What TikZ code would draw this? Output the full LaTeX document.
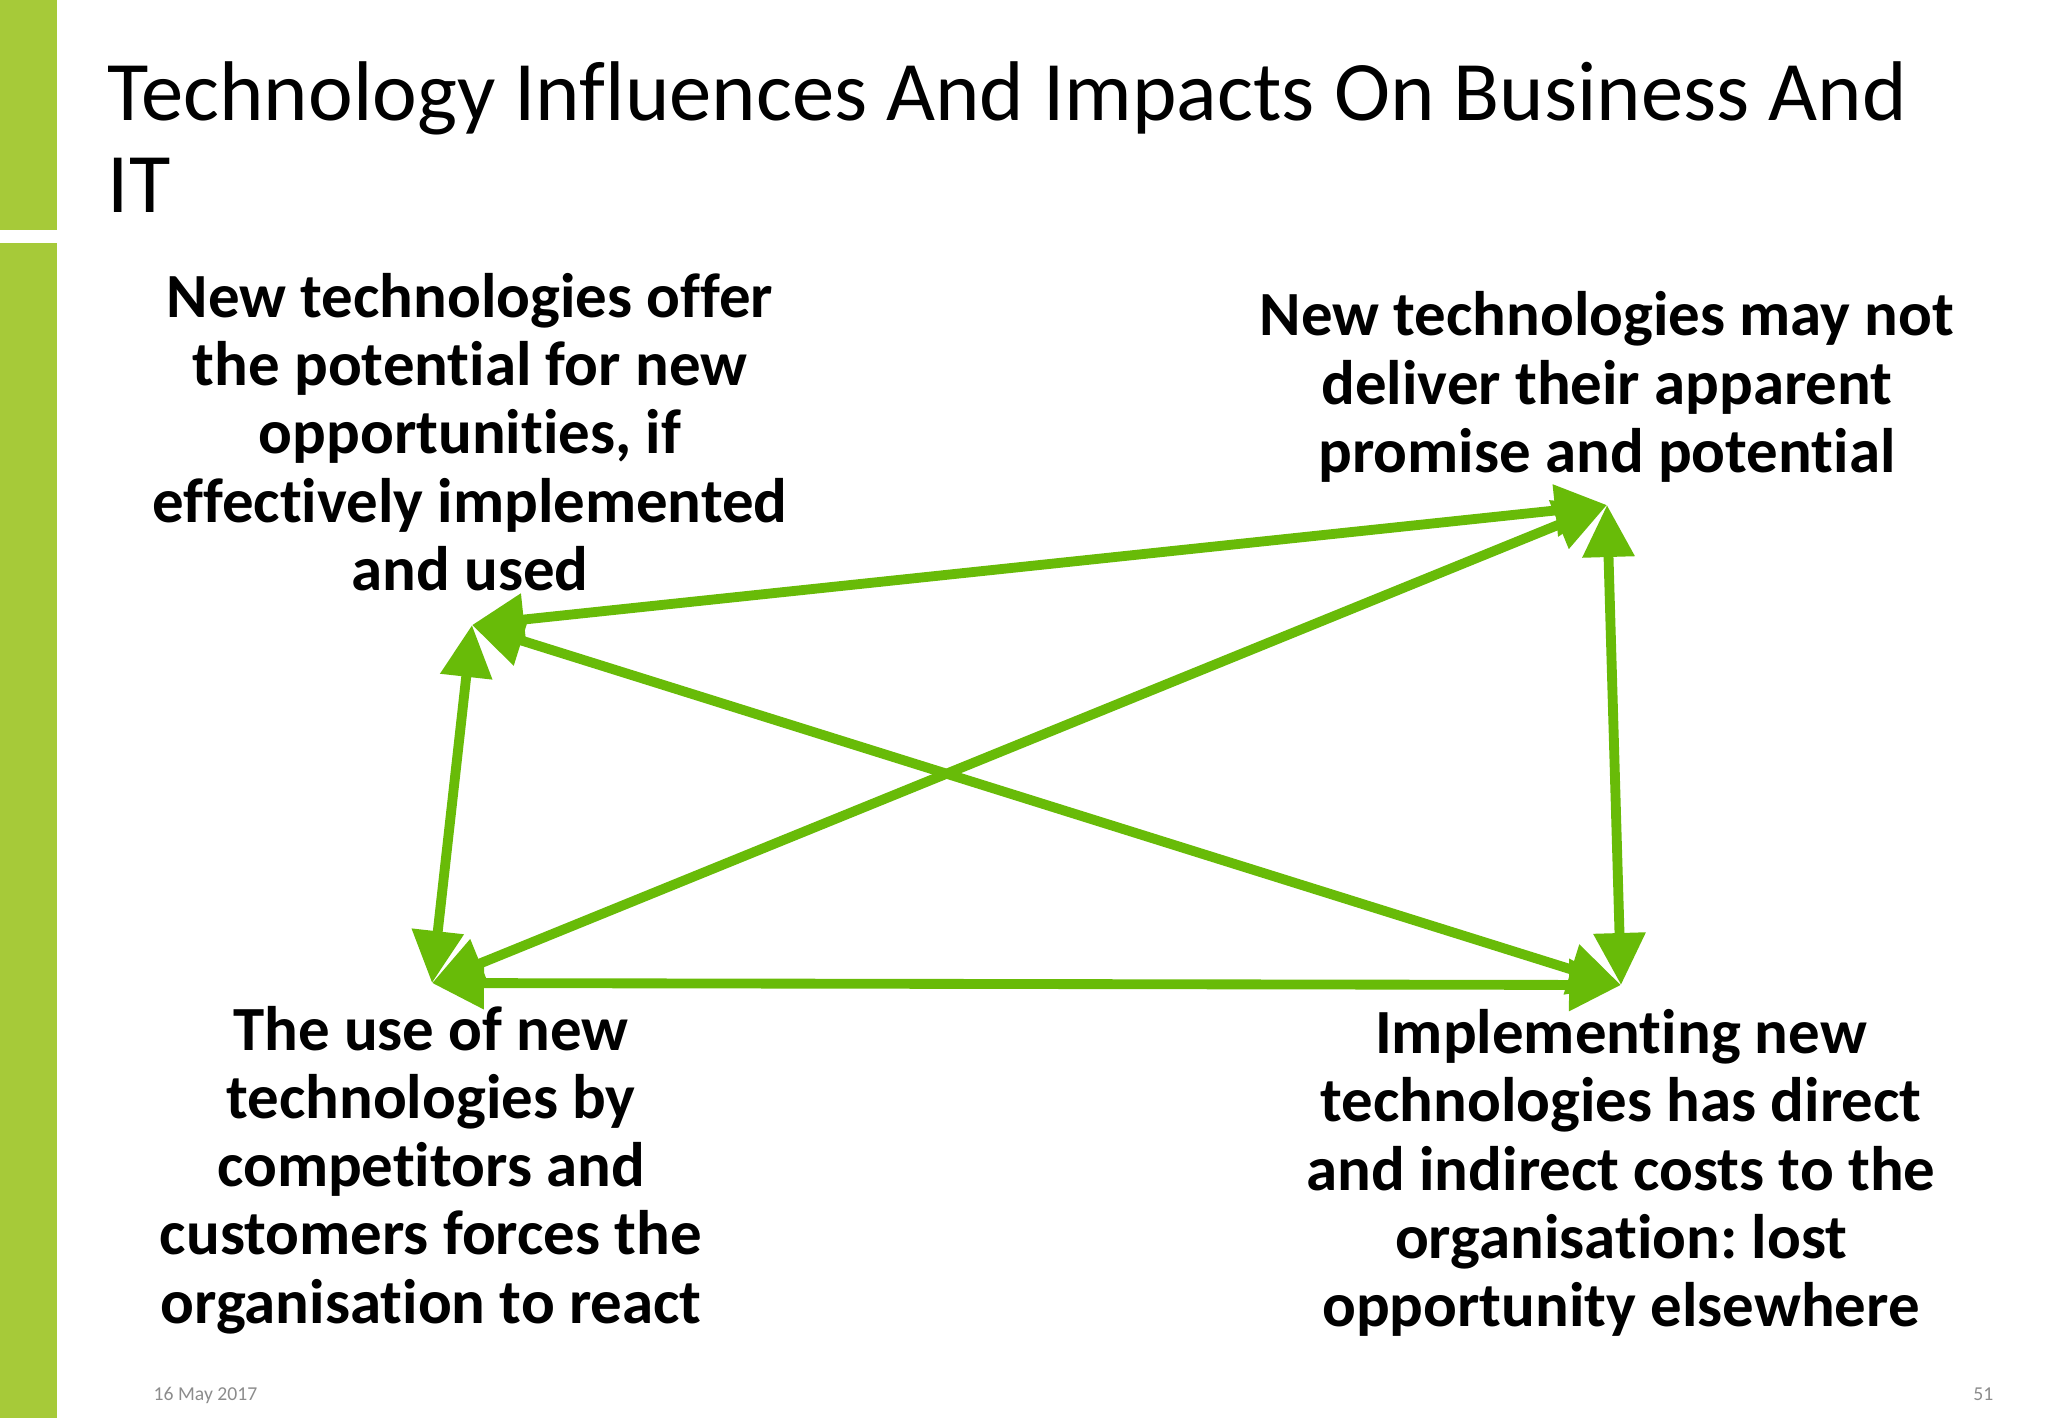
\documentclass[tikz,border=0pt]{standalone}
\usepackage{fontspec}
\setmainfont{Carlito}[Ligatures=NoCommon]
\frenchspacing
\usetikzlibrary{arrows.meta}
\definecolor{barGreen}{RGB}{166,202,57}
\definecolor{arrowGreen}{RGB}{104,187,8}
\definecolor{footGrey}{RGB}{140,140,140}
\begin{document}
\begin{tikzpicture}
        [x=0.1mm,y=-0.1mm,
        textdecorate/.style={align=center,inner sep=0pt,font=\bfseries\fontsize{17.9}{19.4}\selectfont},%
        arrowdecorate/.style={{Triangle[length=5.2mm,width=5mm]}-{Triangle[length=5.2mm,width=5mm]},line width=2.8pt,draw=arrowGreen},%
        footdecorate/.style={inner sep=0pt,text=footGrey,font=\fontsize{5.6}{6}\selectfont}]
        \useasboundingbox (0,0) rectangle (2048,1418);
        %% side bar
        \fill[barGreen] (0,0) rectangle (57,230);
        \fill[barGreen] (0,243) rectangle (57,1418);
        %% title
        \node (title) at (107,212) [anchor=base west,align=left,inner sep=0pt,font=\fontsize{24.1}{25.9}\selectfont]
          {Technology Influences And Impacts On Business And\\IT};
        %% statements
        \foreach \nodename/\x/\y/\words in {
          offer/470/432/{New technologies offer\\the potential for new\\opportunities, if\\effectively implemented\\and used},
          promise/1607/387/{New technologies may not\\deliver their apparent\\promise and potential},
          react/431/1170/{The use of new\\technologies by\\competitors and\\customers forces the\\organisation to react},
          costs/1621/1173/{Implementing new\\technologies has direct\\and indirect costs to the\\organisation: lost\\opportunity elsewhere}}
        {
          \node (\nodename) at (\x,\y) [textdecorate] {\words};
        }
        %% arrow ends
        \foreach \pointname/\x/\y in {tl/472/625, tr/1607/505, bl/432/983, br/1621/985}
        {
          \coordinate (\pointname) at (\x,\y);
        }
        %% arrows
        \path
        \foreach \startnode/\endnode in {tl/tr, tl/br, tl/bl, tr/bl, tr/br, bl/br}
        {
          (\startnode) edge[arrowdecorate] (\endnode)
        };
        %% footer
        \node (date) at (153,1400) [footdecorate,anchor=base west] {16 May 2017};
        \node (page) at (1994,1400) [footdecorate,anchor=base east] {51};
      \end{tikzpicture}
\end{document}
